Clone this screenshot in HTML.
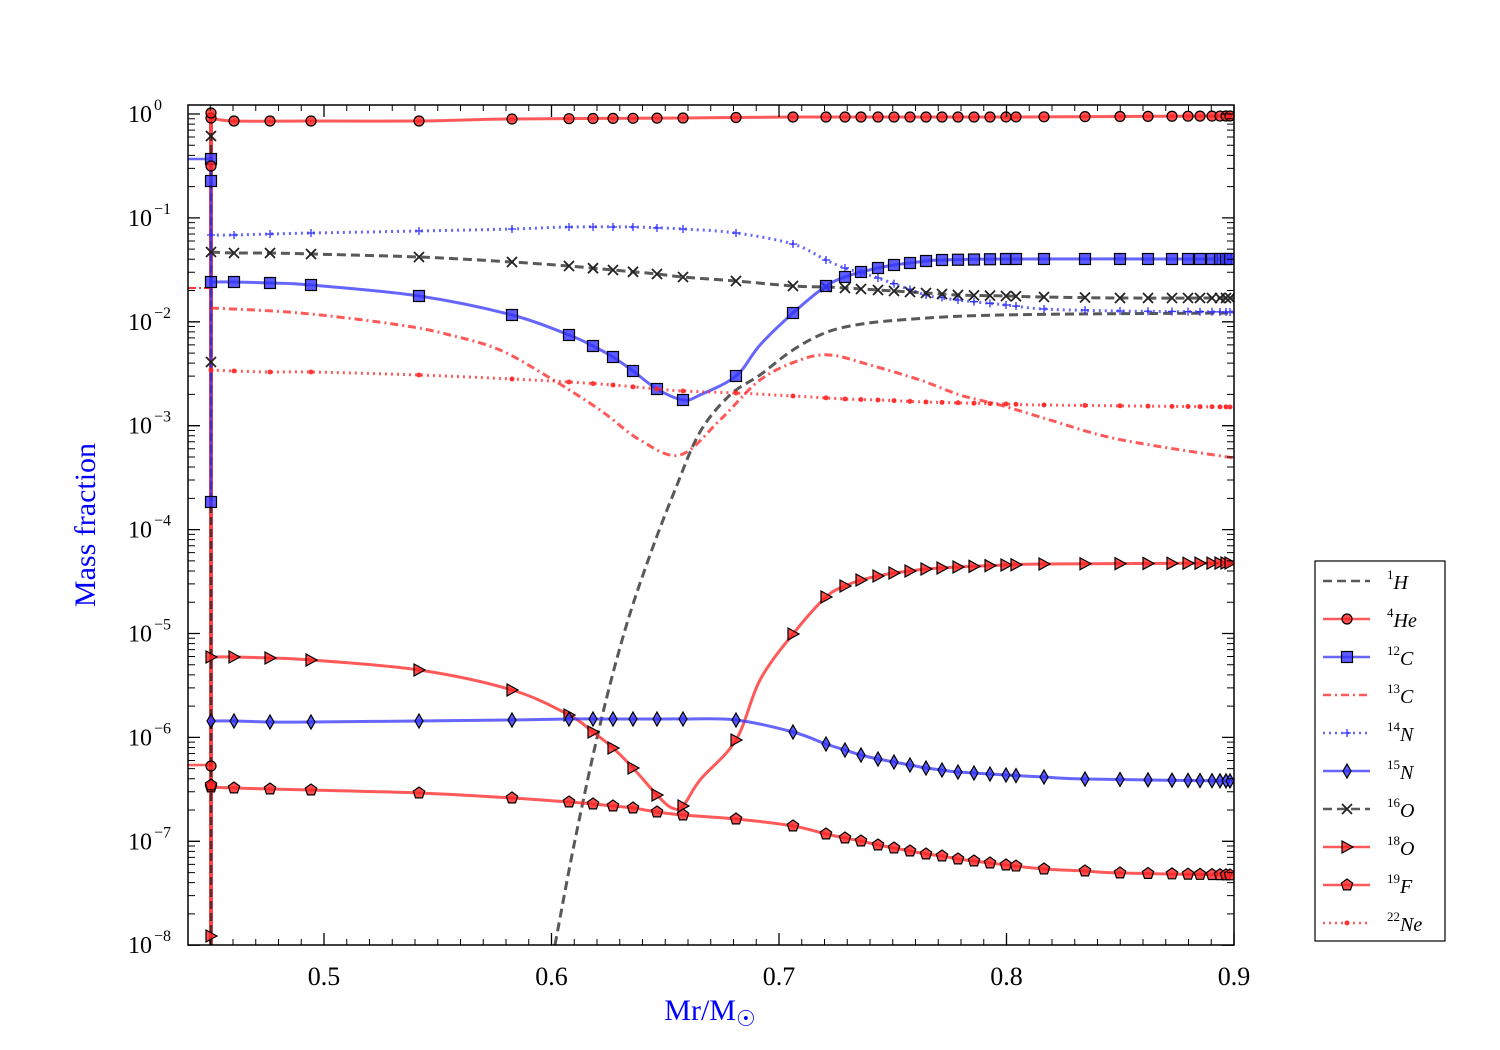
<!DOCTYPE html>
<html><head><meta charset="utf-8"><style>
html,body{margin:0;padding:0;background:#fff;width:1500px;height:1050px;overflow:hidden}
svg text{font-family:"Liberation Serif",serif}
</style></head><body>
<svg id="s" width="1500" height="1050" xmlns="http://www.w3.org/2000/svg"></svg>
<script>
const S=document.getElementById('s');let h='';
const L=188,R=1234,T=105,B=945;
function cr(p){let d='M'+p[0][0]+','+p[0][1];for(let i=0;i<p.length-1;i++){const p0=p[i-1]||p[i],p1=p[i],p2=p[i+1],p3=p[i+2]||p2;
d+=' C'+(p1[0]+(p2[0]-p0[0])/6).toFixed(1)+','+(p1[1]+(p2[1]-p0[1])/6).toFixed(1)+' '+(p2[0]-(p3[0]-p1[0])/6).toFixed(1)+','+(p2[1]-(p3[1]-p1[1])/6).toFixed(1)+' '+p2[0]+','+p2[1];}return d;}
const G=[211,234,270,311,419,512,569,593,613,633,657,683,736,793,826,845,861,878,894,910,926,942,958,974,990,1006,1016,1044,1085,1120,1148,1172,1188,1200,1212,1220,1226,1230];
function interp(p,x){for(let i=0;i<p.length-1;i++){if(x>=p[i][0]&&x<=p[i+1][0]){const t=(x-p[i][0])/(p[i+1][0]-p[i][0]);return p[i][1]+t*(p[i+1][1]-p[i][1]);}}return null;}
function mk(type,x,y,fc){x=+x;y=+y;const st=`fill="${fc}" fill-opacity="0.8" stroke="#000" stroke-width="1.2"`;
if(type=='o')return `<circle cx="${x}" cy="${y}" r="5" ${st}/>`;
if(type=='s')return `<rect x="${x-5.5}" y="${y-5.5}" width="11" height="11" ${st}/>`;
if(type=='+')return `<path d="M${x-4},${y}h8M${x},${y-4}v8" stroke="${fc}" stroke-width="1.3"/>`;
if(type=='x')return `<path d="M${x-5},${y-5}l10,10M${x-5},${y+5}l10,-10" stroke="#222" stroke-width="1.8"/>`;
if(type=='d')return `<path d="M${x},${y-7}L${x+4},${y}L${x},${y+7}L${x-4},${y}Z" ${st}/>`;
if(type=='>')return `<path d="M${x-5},${y-6}L${x+6},${y}L${x-5},${y+6}Z" ${st}/>`;
if(type=='p')return `<path d="M${x},${y-6}L${x+5.7},${y-1.9}L${x+3.5},${y+4.9}L${x-3.5},${y+4.9}L${x-5.7},${y-1.9}Z" ${st}/>`;
if(type=='.')return `<circle cx="${x}" cy="${y}" r="2.5" fill="${fc}" fill-opacity="0.9"/>`;return '';}
function ser(p,col,dash,m,every){h+=`<path d="${cr(p)}" fill="none" stroke="${col}" stroke-opacity="0.75" stroke-width="3" ${dash?'stroke-dasharray="'+dash+'"':''}/>`;
if(m){(every||G).forEach(x=>{const y=interp(p,x);if(y!=null)h+=mk(m,x,y,col)});}}
h+=`<defs><clipPath id="c"><rect x="${L}" y="${T}" width="${R-L}" height="${B-T}"/></clipPath></defs><g clip-path="url(#c)">`;
h+=`<path d="M188,159H211" stroke="#33f" stroke-opacity=".75" stroke-width="2.5"/>`;
h+=`<path d="M188,288H211" stroke="#f33" stroke-width="2" stroke-dasharray="8,3,2,3"/>`;
h+=`<path d="M188,765H211" stroke="#f33" stroke-opacity=".8" stroke-width="2.5"/>`;
h+=`<path d="M211,945V113" stroke="#f22" stroke-opacity=".85" stroke-width="4"/>`;
h+=`<path d="M211,945V130" stroke="#222" stroke-opacity=".75" stroke-width="2.5" stroke-dasharray="8,4"/>`;
h+=`<path d="M211,502V159" stroke="#33f" stroke-opacity=".75" stroke-width="2.5"/>`;
ser([[555,945],[575,840],[600,725],[625,630],[650,555],[675,490],[700,432],[730,395],[760,375],[790,352],[820,335],[850,326],[900,320],[1000,315],[1234,313]],'#222','9,5');
ser([[211,118],[234,121],[311,121],[419,121],[512,119],[683,118],[793,117],[1000,117],[1234,116]],'#f22','', 'o');
ser([[211,308],[300,313],[400,325],[450,335],[500,350],[550,378],[600,410],[640,440],[680,455],[720,420],[760,380],[800,360],[830,355],[870,365],[920,380],[960,395],[1000,405],[1050,420],[1100,435],[1150,445],[1234,458]],'#f22','8,4,2,4');
ser([[211,235],[234,235],[270,234],[311,233],[419,231],[512,229],[569,227],[633,227],[683,229],[736,233],[793,244],[826,260],[845,268],[878,278],[926,295],[958,300],[1006,305],[1044,309],[1120,311],[1234,312]],'#33f','2,4','+');
ser([[211,252],[234,253],[270,253],[311,254],[419,257],[512,262],[569,266],[613,270],[657,274],[683,277],[736,281],[793,286],[826,287],[845,288],[878,290],[926,293],[958,295],[1006,296],[1044,297],[1120,298],[1234,298]],'#222','9,5','x');
ser([[211,282],[234,282],[270,283],[311,285],[419,296],[512,315],[569,335],[593,346],[613,357],[633,371],[657,389],[683,400],[700,395],[736,376],[760,345],[793,313],[826,286],[845,277],[861,272],[878,268],[894,265],[910,263],[926,261],[942,260],[1006,259],[1234,259]],'#33f','','s');
ser([[211,370],[234,371],[270,372],[311,372],[419,375],[512,379],[569,382],[613,385],[657,389],[683,391],[736,393],[793,396],[845,399],[878,400],[926,402],[1006,404],[1044,405],[1234,407]],'#f22','2,4','.');
ser([[211,657],[234,657],[270,658],[311,660],[419,670],[512,690],[569,715],[593,732],[613,748],[633,768],[657,795],[672,808],[683,806],[700,780],[736,740],[760,680],[793,634],[826,597],[845,586],[861,580],[878,576],[894,573],[910,571],[926,569],[958,567],[1006,565],[1044,564],[1234,563]],'#f22','','>');
ser([[211,721],[234,721],[270,722],[311,722],[419,721],[512,720],[569,719],[613,719],[657,719],[683,719],[736,720],[793,732],[826,744],[845,750],[861,755],[878,759],[894,762],[910,765],[926,768],[942,770],[958,772],[1006,775],[1044,777],[1085,779],[1234,781]],'#33f','','d');
ser([[211,787],[234,788],[270,789],[311,790],[419,793],[512,798],[569,802],[593,804],[613,806],[633,808],[657,812],[683,815],[736,819],[793,826],[826,834],[845,838],[861,841],[878,845],[894,848],[910,851],[926,854],[942,856],[958,859],[974,861],[990,863],[1006,865],[1044,869],[1085,871],[1120,873],[1234,875]],'#f22','','p');
h+=mk('s',211,159,'#33f')+mk('s',211,181,'#33f')+mk('s',211,502,'#33f')+mk('x',211,136)+mk('x',211,362)+mk('o',211,113,'#f22')+mk('o',211,166,'#f22')+mk('o',211,766,'#f22')+mk('>',211,936,'#f22')+mk('p',211,785,'#f22');
h+='</g>';
h+=`<rect x="${L}" y="${T}" width="${R-L}" height="${B-T}" fill="none" stroke="#000" stroke-width="1.5"/>`;
for(let k=0;k<=8;k++){const y0=114+k*103.9;
h+=`<path d="M${L},${y0}h12M${R},${y0}h-12" stroke="#000" stroke-width="1.3"/>`;
h+=`<text x="152" y="${y0+8}" font-size="24" text-anchor="end">10</text><text x="154" y="${y0-4}" font-size="16">${k==0?'0':'−'+k}</text>`;
for(let m=2;m<=9;m++){const y=y0+103.9-103.9*Math.log10(m);if(y<=B&&y>=T)h+=`<path d="M${L},${y}h7M${R},${y}h-7" stroke="#000" stroke-width="1"/>`;}}
for(let m=2;m<=9;m++){const y=114-103.9*Math.log10(m);if(y>=T)h+=`<path d="M${L},${y}h7M${R},${y}h-7" stroke="#000"/>`;}
[0.5,0.6,0.7,0.8,0.9].forEach(v=>{const x=324+(v-0.5)*2275;h+=`<path d="M${x},${B}v-12M${x},${T}v12" stroke="#000" stroke-width="1.3"/><text x="${x}" y="985" font-size="26" text-anchor="middle">${v}</text>`;});
for(let v=0.45;v<0.9;v+=0.01){const x=324+(v-0.5)*2275;if(x>L&&x<R)h+=`<path d="M${x},${B}v-6M${x},${T}v6" stroke="#000"/>`;}
h+=`<text x="710" y="1020" font-size="30" fill="#00f" text-anchor="middle">Mr/M<tspan font-size="22" dy="6">☉</tspan></text>`;
h+=`<text transform="translate(95,525) rotate(-90)" font-size="30" fill="#00f" text-anchor="middle">Mass fraction</text>`;
h+=`<rect x="1315" y="561" width="130" height="380" fill="#fff" stroke="#000" stroke-width="1.2"/>`;
const lg=[['1','H','#222','9,5',''],['4','He','#f22','','o'],['12','C','#33f','','s'],['13','C','#f22','8,4,2,4',''],['14','N','#33f','2,4','+'],['15','N','#33f','','d'],['16','O','#222','9,5','x'],['18','O','#f22','','>'],['19','F','#f22','','p'],['22','Ne','#f22','2,4','.']];
lg.forEach((e,i)=>{const y=581+i*38;h+=`<path d="M1323,${y}H1370" stroke="${e[2]}" stroke-opacity=".75" stroke-width="2.6" ${e[3]?'stroke-dasharray="'+e[3]+'"':''}/>`;if(e[4])h+=mk(e[4],1347,y,e[2]);
h+=`<text x="1387" y="${y+8}" font-size="20" font-style="italic"><tspan font-size="13" font-style="normal" dy="-10">${e[0]}</tspan><tspan dy="10">${e[1]}</tspan></text>`;});
S.innerHTML=h;
</script>
</body></html>
